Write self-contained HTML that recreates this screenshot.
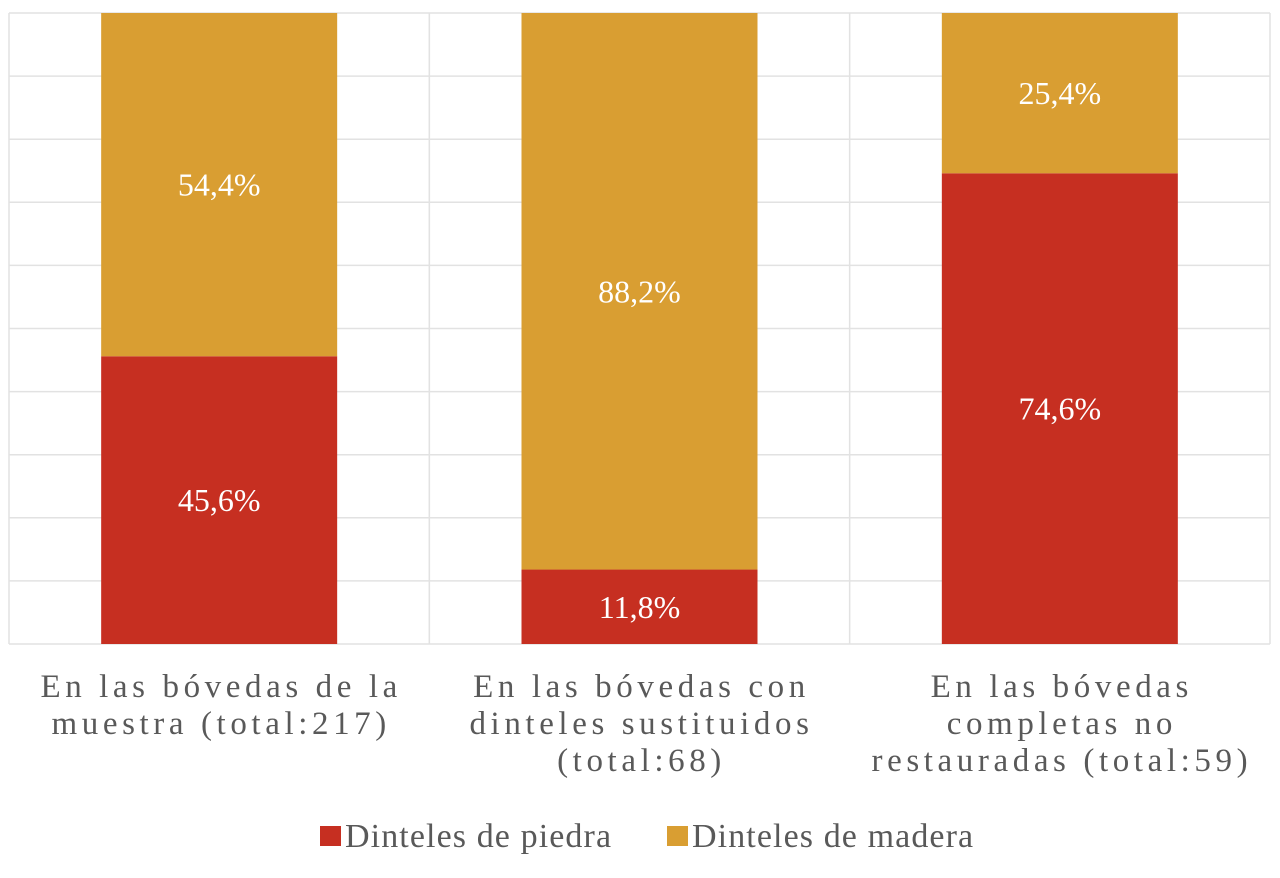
<!DOCTYPE html>
<html><head><meta charset="utf-8"><style>
body{margin:0;background:#fff;}
svg{display:block;font-family:"Liberation Serif",serif;}
</style></head><body>
<svg id="chart" width="1280" height="878" viewBox="0 0 1280 878"></svg>
<script>
const categories=[["En las bóvedas de la","muestra (total:217)"],["En las bóvedas con","dinteles  sustituidos","(total:68)"],["En las bóvedas","completas no","restauradas (total:59)"]];
const piedra=[45.6,11.8,74.6];
const madera=[54.4,88.2,25.4];
const piedraLabels=["45,6%","11,8%","74,6%"];
const maderaLabels=["54,4%","88,2%","25,4%"];
const yTicks=[0,10,20,30,40,50,60,70,80,90,100];

const NS="http://www.w3.org/2000/svg";
const svg=document.getElementById('chart');
const L=9,R=1270,T=13,B=644;
const catW=(R-L)/categories.length,barW=236;
const y=v=>B-(v/100)*(B-T);
const xc=i=>L+catW*(i+0.5);
function mk(tag,attrs,parent){const e=document.createElementNS(NS,tag);for(const k in attrs)e.setAttribute(k,attrs[k]);(parent||svg).appendChild(e);return e;}

const grid=mk('g',{});


yTicks.forEach(t=>{const l=mk('line',{x1:L,x2:R,y1:y(t),y2:y(t),stroke:'#e2e2e2','stroke-width':1.5},grid);

});
for(let i=0;i<=categories.length;i++){const l=mk('line',{x1:L+catW*i,x2:L+catW*i,y1:T,y2:B,stroke:'#e2e2e2','stroke-width':1.5},grid);

}

categories.forEach((c,i)=>{
  const x0=xc(i)-barW/2;
  const r1=mk('rect',{x:x0,y:y(piedra[i]),width:barW,height:y(0)-y(piedra[i]),fill:'#c62f21'});
  
  
  const r2=mk('rect',{x:x0,y:y(piedra[i]+madera[i]),width:barW,height:y(piedra[i])-y(piedra[i]+madera[i]),fill:'#d99e32'});
  
  
  const t1=mk('text',{x:xc(i),y:(y(0)+y(piedra[i]))/2+11,'text-anchor':'middle',fill:'#fff','font-size':32});
  t1.textContent=piedraLabels[i];
  
  
  const t2=mk('text',{x:xc(i),y:(y(piedra[i])+y(piedra[i]+madera[i]))/2+11,'text-anchor':'middle',fill:'#fff','font-size':32});
  t2.textContent=maderaLabels[i];
  
  
  c.forEach((line,j)=>{
    const t=mk('text',{x:xc(i)+2,y:697+j*37,'text-anchor':'middle',fill:'#595959','font-size':33,'letter-spacing':'4.6'});
    t.textContent=line;
    
    
  });
});

const lg=mk('g',{});


[[320,'#c62f21','Dinteles de piedra'],[667,'#d99e32','Dinteles de madera']].forEach(([x,col,txt])=>{
  const s=mk('rect',{x:x,y:826,width:21,height:20,fill:col},lg);
  
  
  const t=mk('text',{x:x+25,y:847,fill:'#595959','font-size':34,'letter-spacing':'1.1'},lg);
  t.textContent=txt;
  
  
});
</script>
</body></html>
